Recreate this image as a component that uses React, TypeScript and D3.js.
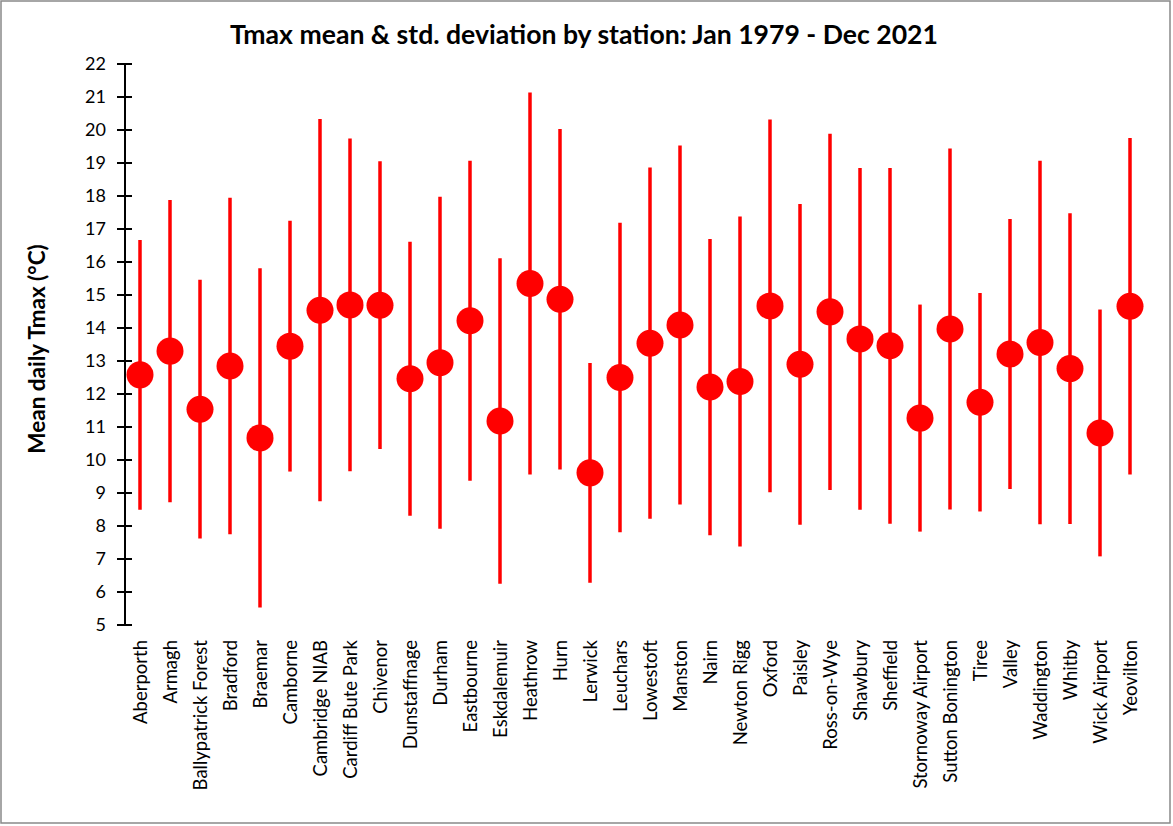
import React, { useEffect } from "react";
import * as d3 from "d3";

const stations: string[] = [
  "Aberporth", "Armagh", "Ballypatrick Forest", "Bradford", "Braemar", "Camborne",
  "Cambridge NIAB", "Cardiff Bute Park", "Chivenor", "Dunstaffnage", "Durham",
  "Eastbourne", "Eskdalemuir", "Heathrow", "Hurn", "Lerwick", "Leuchars", "Lowestoft",
  "Manston", "Nairn", "Newton Rigg", "Oxford", "Paisley", "Ross-on-Wye", "Shawbury",
  "Sheffield", "Stornoway Airport", "Sutton Bonington", "Tiree", "Valley",
  "Waddington", "Whitby", "Wick Airport", "Yeovilton",
];

const meanTmax: number[] = [
  12.58, 13.3, 11.54, 12.85, 10.67, 13.45, 14.54, 14.7, 14.69, 12.46, 12.95,
  14.22, 11.18, 15.35, 14.87, 9.61, 12.5, 13.54, 14.09, 12.21, 12.38, 14.67,
  12.9, 14.49, 13.67, 13.46, 11.27, 13.97, 11.75, 13.21, 13.56, 12.77, 10.82, 14.66,
];

const stdTmax: number[] = [
  4.09, 4.58, 3.92, 5.1, 5.14, 3.8, 5.79, 5.04, 4.36, 4.15, 5.03,
  4.85, 4.93, 5.79, 5.16, 3.33, 4.69, 5.32, 5.44, 4.49, 5.0, 5.65,
  4.86, 5.4, 5.18, 5.39, 3.44, 5.47, 3.31, 4.09, 5.51, 4.71, 3.74, 5.1,
];

const yTicks: number[] = d3.range(5, 23);

const W = 1173;
const H = 826;
const plot = { left: 125, right: 1145, top: 64, bottom: 625 };

export default function App() {
  useEffect(() => {
    document.body.style.margin = "0";
  }, []);

  const x = d3.scaleBand<string>().domain(stations).range([plot.left, plot.right]).padding(0);
  const y = d3.scaleLinear().domain([5, 22]).range([plot.bottom, plot.top]);
  const font = "Lato, 'Open Sans', sans-serif";

  return (
    <svg width={W} height={H} style={{ display: "block", background: "#fff" }}>
      <rect x={1} y={1} width={1169} height={822} fill="#fff" stroke="#898989" strokeWidth={1.5} />
      <text x={584} y={44} textAnchor="middle" fontFamily={font} fontWeight="bold" fontSize={26.6} fill="#000">
        Tmax mean &amp; std. deviation by station: Jan 1979 - Dec 2021
      </text>
      <text
        transform={`translate(45, 349) rotate(-90)`}
        textAnchor="middle"
        fontFamily={font}
        fontWeight="bold"
        fontSize={22.5}
        fill="#000"
      >
        Mean daily Tmax (°C)
      </text>
      {/* y axis */}
      <line x1={plot.left} x2={plot.left} y1={y(5)} y2={y(22)} stroke="#000" strokeWidth={2} />
      {yTicks.map((t) => (
        <g key={t}>
          <line x1={plot.left - 8} x2={plot.left + 7} y1={y(t)} y2={y(t)} stroke="#000" strokeWidth={2} />
          <text x={106} y={y(t)} dy="0.36em" textAnchor="end" fontFamily={font} fontSize={18} fill="#000">
            {t}
          </text>
        </g>
      ))}
      {/* error bars and points */}
      {stations.map((s, i) => {
        const cx = (x(s) as number) + x.bandwidth() / 2;
        const m = meanTmax[i];
        const sd = stdTmax[i];
        return (
          <g key={s}>
            <line x1={cx} x2={cx} y1={y(m + sd)} y2={y(m - sd)} stroke="#ff0000" strokeWidth={3.5} />
            <circle cx={cx} cy={y(m)} r={13.5} fill="#ff0000" />
          </g>
        );
      })}
      {/* category labels */}
      {stations.map((s) => {
        const cx = (x(s) as number) + x.bandwidth() / 2;
        return (
          <text
            key={s}
            transform={`translate(${cx}, 640) rotate(-90)`}
            textAnchor="end"
            dy="0.36em"
            fontFamily={font}
            fontSize={18.5}
            fill="#000"
          >
            {s}
          </text>
        );
      })}
    </svg>
  );
}
